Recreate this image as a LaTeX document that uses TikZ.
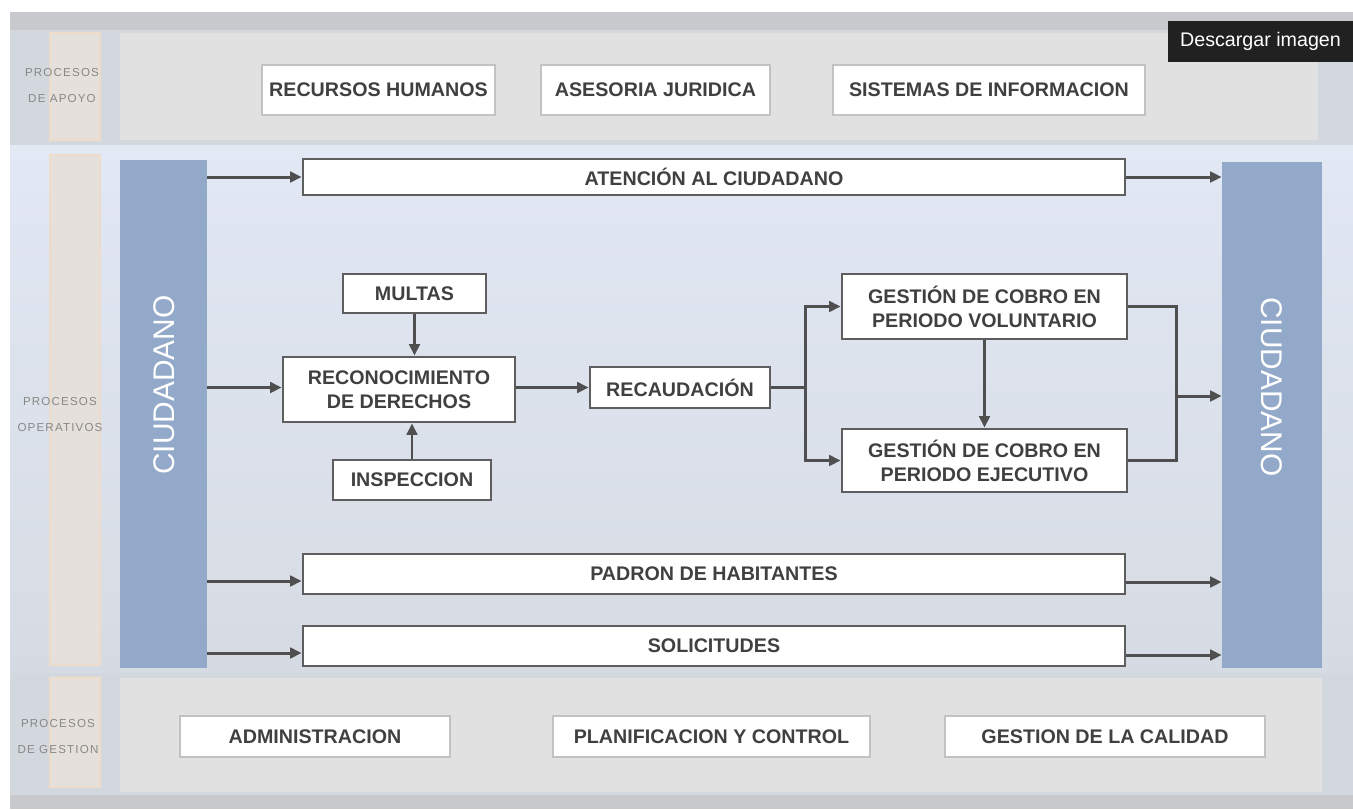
\documentclass[tikz,border=0pt]{standalone}
\usepackage{fontspec}
\setmainfont{Liberation Sans}
\usetikzlibrary{arrows.meta,calc}
\definecolor{boxline}{HTML}{5E5E5E}
\definecolor{lineclr}{HTML}{4F4F4F}
\definecolor{txt}{HTML}{404040}
\definecolor{barblue}{HTML}{93A9C9}
\definecolor{colbeige}{HTML}{E5E0DB}
\definecolor{colborder}{HTML}{EEDCCB}
\definecolor{panelgray}{HTML}{E1E1E1}
\definecolor{lightline}{HTML}{C2C2C2}
\definecolor{outerbg}{HTML}{D3D7DE}
\definecolor{topband}{HTML}{C8C9CC}
\definecolor{midtop}{HTML}{E2E8F4}
\definecolor{midbot}{HTML}{D6DBE3}
\definecolor{labelgray}{HTML}{888888}
\begin{document}
\begin{tikzpicture}[x=0.02cm,y=-0.02cm,
  sz/.style 2 args={minimum width=#1*0.02cm, minimum height=#2*0.02cm},
  boxtext/.style={font=\fontsize{11.2}{13.6}\selectfont\bfseries, text=txt, align=center, inner sep=0pt},
  mbox/.style={boxtext, draw=boxline, line width=1.6pt, fill=white},
  pbox/.style={boxtext, draw=lightline, line width=1.4pt, fill=white},
  ln/.style={draw=lineclr, line width=1.7pt},
  arr/.style={ln, -{Triangle[length=6.5pt,width=6pt]}},
  bar/.style={fill=barblue, draw=none, inner sep=0pt},
  col/.style={fill=colbeige, draw=colborder, line width=0.6pt, inner sep=0pt},
  panel/.style={fill=panelgray, draw=none, inner sep=0pt},
  sidelabel/.style={font=\fontsize{6.6}{14.7}\selectfont\addfontfeature{LetterSpace=10}, text=labelgray, align=center},
  bartext/.style={font=\fontsize{17}{20}\selectfont, text=white}
]
\useasboundingbox (0,0) rectangle (1353,809);
% backgrounds
\fill[white] (0,0) rectangle (1353,809);
\fill[outerbg] (10,12) rectangle (1353,809);
\fill[topband] (10,12) rectangle (1353,30);
\shade[top color=midtop, bottom color=midbot] (10,145) rectangle (1353,672);
\fill[topband] (10,795) rectangle (1353,809);

% side label columns
\node[col, sz={50}{107}] (c1) at (75,86.5) {};
\node[col, sz={50}{510}] (c2) at (75,410) {};
\node[col, sz={50}{109}] (c3) at (75,732.5) {};
\node[sidelabel] (l1) at (62,85.5) {PROCESOS\\DE APOYO};
\node[sidelabel] (l2) at (60,414.5) {PROCESOS\\OPERATIVOS};
\node[sidelabel] (l3) at (58,736.5) {PROCESOS\\DE GESTION};

% top and bottom panels
\node[panel, sz={1198}{107}] (ptop) at (719,86.5) {};
\node[panel, sz={1202}{114}] (pbot) at (721,735) {};

% top boxes
\node[pbox, sz={233}{50}] (rh) at (378.5,90) {RECURSOS HUMANOS};
\node[pbox, sz={229}{50}] (aj) at (655.5,90) {ASESORIA JURIDICA};
\node[pbox, sz={312}{50}] (si) at (989,90) {SISTEMAS DE INFORMACION};

% bottom boxes
\node[pbox, sz={270}{41}] (ad) at (315,736.5) {ADMINISTRACION};
\node[pbox, sz={317}{41}] (pc) at (711.5,736.5) {PLANIFICACION Y CONTROL};
\node[pbox, sz={320}{41}] (gc) at (1105,736.5) {GESTION DE LA CALIDAD};

% ciudadano bars
\node[bar, sz={87}{508}] (cl) at (163.5,414) {};
\node[bar, sz={100}{506}] (cr) at (1272,415) {};
\node[bartext, rotate=90] (clt) at (164,385) {CIUDADANO};
\node[bartext, rotate=-90] (crt) at (1272,387) {CIUDADANO};

% operative boxes
\node[mbox, sz={822}{36}] (at) at (714,177) {ATENCIÓN AL CIUDADANO};
\node[mbox, sz={143}{39}] (mu) at (414.5,293.5) {MULTAS};
\node[mbox, sz={232}{65}] (rd) at (399,389.5) {RECONOCIMIENTO\\DE DERECHOS};
\node[mbox, sz={158}{40}] (in) at (412,480) {INSPECCION};
\node[mbox, sz={180}{41}] (rc) at (680,387.5) {RECAUDACIÓN};
\node[mbox, sz={285}{65}] (gv) at (984.5,306.5) {GESTIÓN DE COBRO EN\\PERIODO VOLUNTARIO};
\node[mbox, sz={285}{63}] (ge) at (984.5,460.5) {GESTIÓN DE COBRO EN\\PERIODO EJECUTIVO};
\node[mbox, sz={822}{40}] (ph) at (714,574) {PADRON DE HABITANTES};
\node[mbox, sz={822}{40}] (so) at (714,646) {SOLICITUDES};

% connectors
\draw[arr] (cl.east |- at.west) -- (at.west);
\draw[arr] (at.east) -- (cr.west |- at.east);

\draw[arr] (cl.east |- rc.west) -- (rd.west |- rc.west);
\draw[arr] (mu.south) -- (mu.south |- rd.north);
\draw[arr] (in.north) -- (in.north |- rd.south);
\draw[arr] (rd.east |- rc.west) -- (rc.west);

\coordinate (j1) at (805,387.5);
\draw[ln] (rc.east) -- (j1);
\draw[arr] (j1) |- (gv.west);
\draw[arr] (j1) |- (ge.west);
\draw[arr] (gv.south) -- (ge.north);

\coordinate (j2) at (1176,396);
\draw[ln] (gv.east) -| (j2);
\draw[ln] (ge.east) -| (j2);
\draw[arr] (j2) -- (cr.west |- j2);

\coordinate (phin) at ($(ph.west)+(0,7)$);
\coordinate (phout) at ($(ph.east)+(0,8)$);
\draw[arr] (cl.east |- phin) -- (phin);
\draw[arr] (phout) -- (cr.west |- phout);

\coordinate (soin) at ($(so.west)+(0,7)$);
\coordinate (soout) at ($(so.east)+(0,9)$);
\draw[arr] (cl.east |- soin) -- (soin);
\draw[arr] (soout) -- (cr.west |- soout);

% download label
\node[fill=black!87, text=white, font=\fontsize{11.2}{13}\selectfont, sz={185}{41}, inner sep=0pt] (dl) at (1260.5,41.5) {Descargar imagen};
\end{tikzpicture}
\end{document}
